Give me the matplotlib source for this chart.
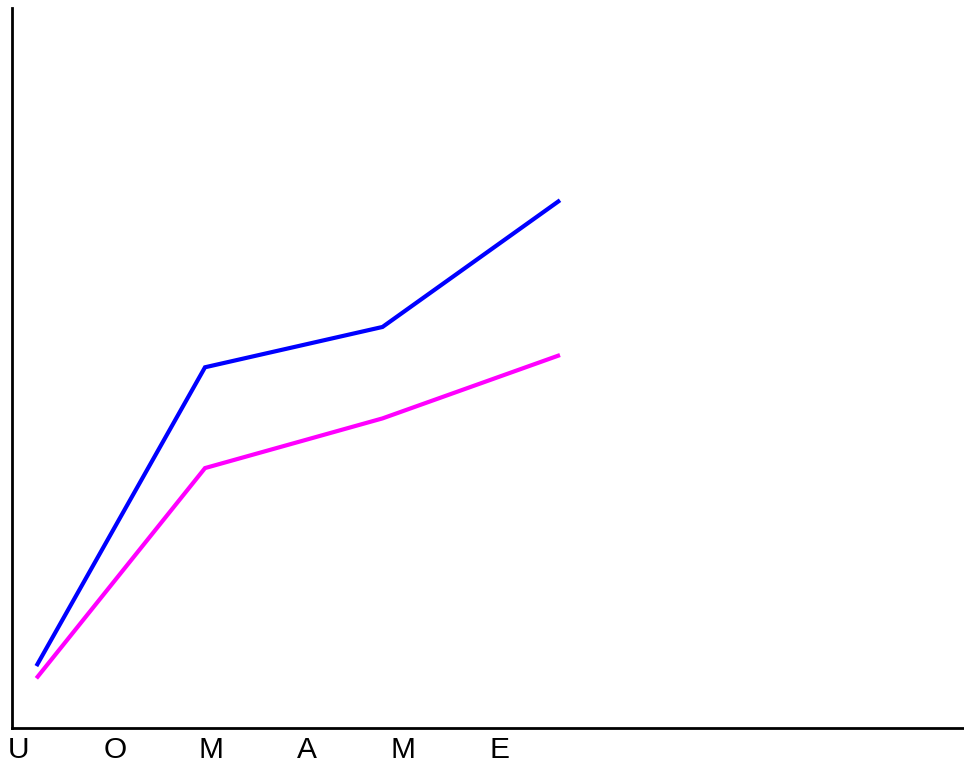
import matplotlib
matplotlib.use("Agg")
import matplotlib.pyplot as plt

plt.rcParams['font.family'] = ['Liberation Sans', 'DejaVu Sans']

# data
x_points = [0.05, 1, 2, 3]
series_blue = [8.6, 50.1, 55.7, 73.3]
series_magenta = [6.9, 36.1, 43.0, 51.8]
tick_labels = ["U", "O", "M", "A", "M", "E"]

W, H = 964, 765
fig = plt.figure(figsize=(W / 100, H / 100), dpi=100)
left_px, right_px, top_px, bottom_px = 12, 964, 8, 728
ax = fig.add_axes([left_px / W, 1 - bottom_px / H, (right_px - left_px) / W, (bottom_px - top_px) / H])

ax.plot(x_points, series_blue, color='#0000ff', lw=3, solid_capstyle='butt', solid_joinstyle='miter')
ax.plot(x_points, series_magenta, color='#ff00ff', lw=3, solid_capstyle='butt', solid_joinstyle='miter')

# x: 1 -> 205px, 3 -> 560px
unit = (560 - 205) / 2
x0_px = 205 - unit
ax.set_xlim((left_px - x0_px) / unit, (right_px - x0_px) / unit)
ax.set_ylim(0, 100)

for s in ['top', 'right']:
    ax.spines[s].set_visible(False)
for s in ['left', 'bottom']:
    ax.spines[s].set_linewidth(2)
    ax.spines[s].set_color('black')
ax.set_yticks([])
ax.set_xticks([])

# category labels axis
ax2 = ax.twiny()
first_frac = (19 - left_px) / (right_px - left_px)
step_frac = 96 / (right_px - left_px)
span = 1 / step_frac
a = -first_frac * span
ax2.set_xlim(a, a + span)
ax2.xaxis.set_ticks_position('bottom')
ax2.xaxis.set_label_position('bottom')
ax2.set_xticks(range(len(tick_labels)))
ax2.set_xticklabels(tick_labels, fontsize=21.5)
ax2.tick_params(axis='x', length=0, pad=6)
for s in ax2.spines.values():
    s.set_visible(False)

fig.savefig("out.png", dpi=100, facecolor='white')
